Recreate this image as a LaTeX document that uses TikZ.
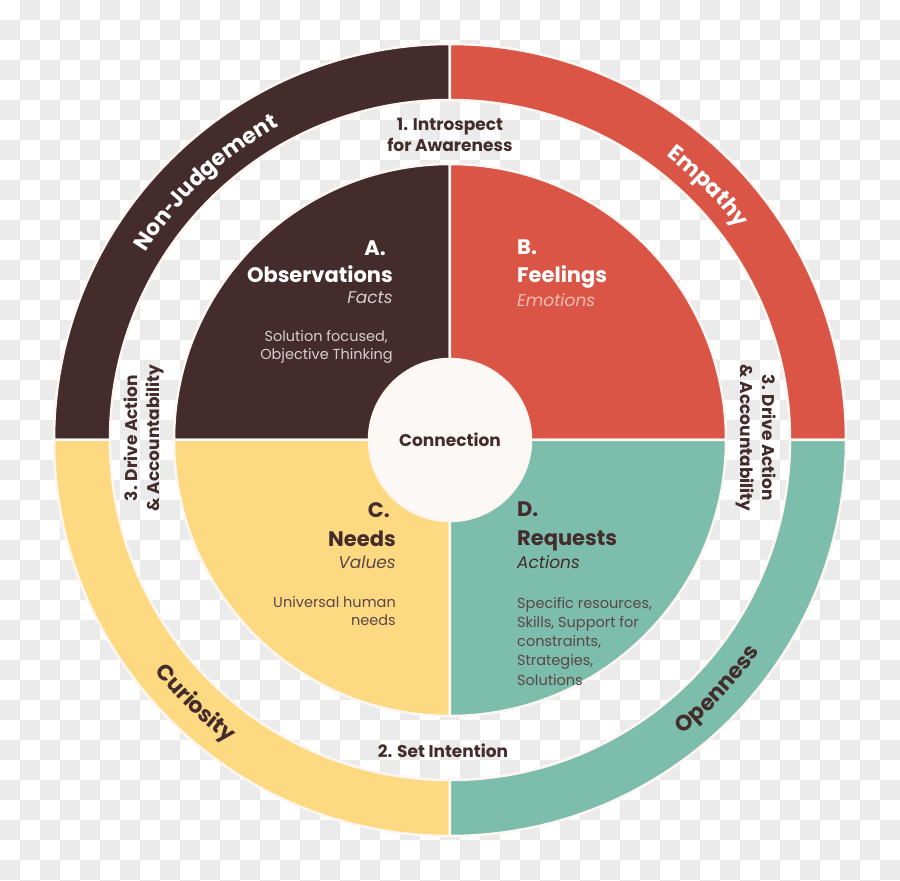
\documentclass[tikz,border=0pt]{standalone}
\usepackage{fontspec}
\setmainfont{Poppins}
\usetikzlibrary{decorations.text}
\definecolor{nvcbrown}{HTML}{442C2C}
\definecolor{nvcred}{HTML}{DB5546}
\definecolor{nvcyellow}{HTML}{FDDA82}
\definecolor{nvcteal}{HTML}{7CBDAB}
\definecolor{nvcrim}{HTML}{FDF6F2}
\definecolor{nvccore}{HTML}{FCF8F6}
\definecolor{nvcchecker}{HTML}{EBEBEB}
\definecolor{nvcpale}{HTML}{D8CDCD}
\definecolor{nvcpink}{HTML}{F6BEB4}
\definecolor{nvcsoft}{HTML}{5A4646}
\tikzset{
	rim/.style={draw=nvcrim, line width=2.5pt},
	steplabel/.style={font=\fontsize{17}{22}\selectfont\bfseries, text=nvcbrown, align=center, inner sep=0pt},
	quadletter/.style={font=\fontsize{21}{26}\selectfont\bfseries, inner sep=0pt},
	quadsub/.style={font=\fontsize{17}{20}\selectfont\itshape, inner sep=0pt},
	quaddetail/.style={font=\fontsize{14.5}{19}\selectfont, inner sep=0pt},
	ringword/.style={decorate, decoration={text along path, text align=center,
		text={|\fontsize{22}{22}\selectfont\bfseries|#1}}}
}
\begin{document}
\begin{tikzpicture}[x=1pt, y=1pt]
	\useasboundingbox (-450,-441) rectangle (450,440);
	\fill[white] (-450,-441) rectangle (450,440);
	\foreach \c in {0,...,44}
		\foreach \r in {0,...,44} {
			\pgfmathtruncatemacro\odd{mod(\c+\r,2)}
			\ifnum\odd=1 \fill[nvcchecker] (20*\c-450,420-20*\r) rectangle ++(20,20); \fi
		}

	\foreach \a/\col in {90/nvcbrown, 0/nvcred, 180/nvcyellow, 270/nvcteal} {
		\filldraw[rim, fill=\col] (\a:340) -- (\a:396) arc[start angle=\a, end angle=\a+90, radius=396]
			-- (\a+90:340) arc[start angle=\a+90, end angle=\a, radius=340] -- cycle;
		\filldraw[rim, fill=\col] (0,0) -- (\a:276) arc[start angle=\a, end angle=\a+90, radius=276] -- cycle;
	}
	\node[circle, rim, fill=nvccore, minimum size=162, font=\fontsize{17}{20}\selectfont\bfseries, text=nvcbrown] (core) at (0,0) {Connection};

	% ring words
	\path[ringword={Non{\scalebox{0.65}[1]{-}}Judgement}, decoration={text color=white}] (175:357) arc[start angle=175, end angle=92, radius=357];
	\path[ringword={Empathy}, decoration={text color=white}] (88:357) arc[start angle=88, end angle=1, radius=357];
	\path[ringword={Curiosity}, decoration={text color=nvcbrown}] (181:375) arc[start angle=181, end angle=271, radius=375];
	\path[ringword={Openness}, decoration={text color=nvcbrown}] (272:375) arc[start angle=272, end angle=362, radius=375];

	% steps
	\node[steplabel, anchor=base] (introspect) at (0,309) {1. Introspect};
	\node[steplabel, anchor=base] (awareness) at (0,288) {for Awareness};
	\node[steplabel, anchor=base] (intention) at (-7,-317) {2. Set Intention};
	\node[steplabel, rotate=90] (driveleft) at (-306,2) {3. Drive Action\\\& Accountability};
	\node[steplabel, rotate=-90] (driveright) at (306,2) {3. Drive Action\\\& Accountability};

	% A
	\node[quadletter, text=white, anchor=base east] (letterA) at (-64,184) {A.};
	\node[quadletter, text=white, anchor=base east] (titleA) at (-57,157) {Observations};
	\node[quadsub, text=nvcpale, anchor=base east] (subA) at (-57,136) {Facts};
	\node[quaddetail, text=nvcpale, anchor=base east] (detailA1) at (-62,98) {Solution focused,};
	\node[quaddetail, text=nvcpale, anchor=base east] (detailA2) at (-57,80) {Objective Thinking};
	% B
	\node[quadletter, text=white, anchor=base west] (letterB) at (67,185) {B.};
	\node[quadletter, text=white, anchor=base west] (titleB) at (67,157) {Feelings};
	\node[quadsub, text=nvcpink, anchor=base west] (subB) at (67,133) {Emotions};
	% C
	\node[quadletter, text=nvcbrown, anchor=base east] (letterC) at (-60,-77) {C.};
	\node[quadletter, text=nvcbrown, anchor=base east] (titleC) at (-54,-106) {Needs};
	\node[quadsub, text=nvcsoft, anchor=base east] (subC) at (-54,-128) {Values};
	\node[quaddetail, text=nvcsoft, anchor=base east] (detailC1) at (-54,-167) {Universal human};
	\node[quaddetail, text=nvcsoft, anchor=base east] (detailC2) at (-54,-185) {needs};
	% D
	\node[quadletter, text=nvcbrown, anchor=base west] (letterD) at (67,-76) {D.};
	\node[quadletter, text=nvcbrown, anchor=base west] (titleD) at (67,-105) {Requests};
	\node[quadsub, text=nvcbrown, anchor=base west] (subD) at (67,-128) {Actions};
	\foreach \t [count=\i] in {{Specific resources,}, {Skills, Support for}, {constraints,}, {Strategies,}, {Solutions}}
		\node[quaddetail, text=nvcsoft, anchor=base west] (detailD\i) at (67,-168-19.3*\i+19.3) {\t};
\end{tikzpicture}
\end{document}
